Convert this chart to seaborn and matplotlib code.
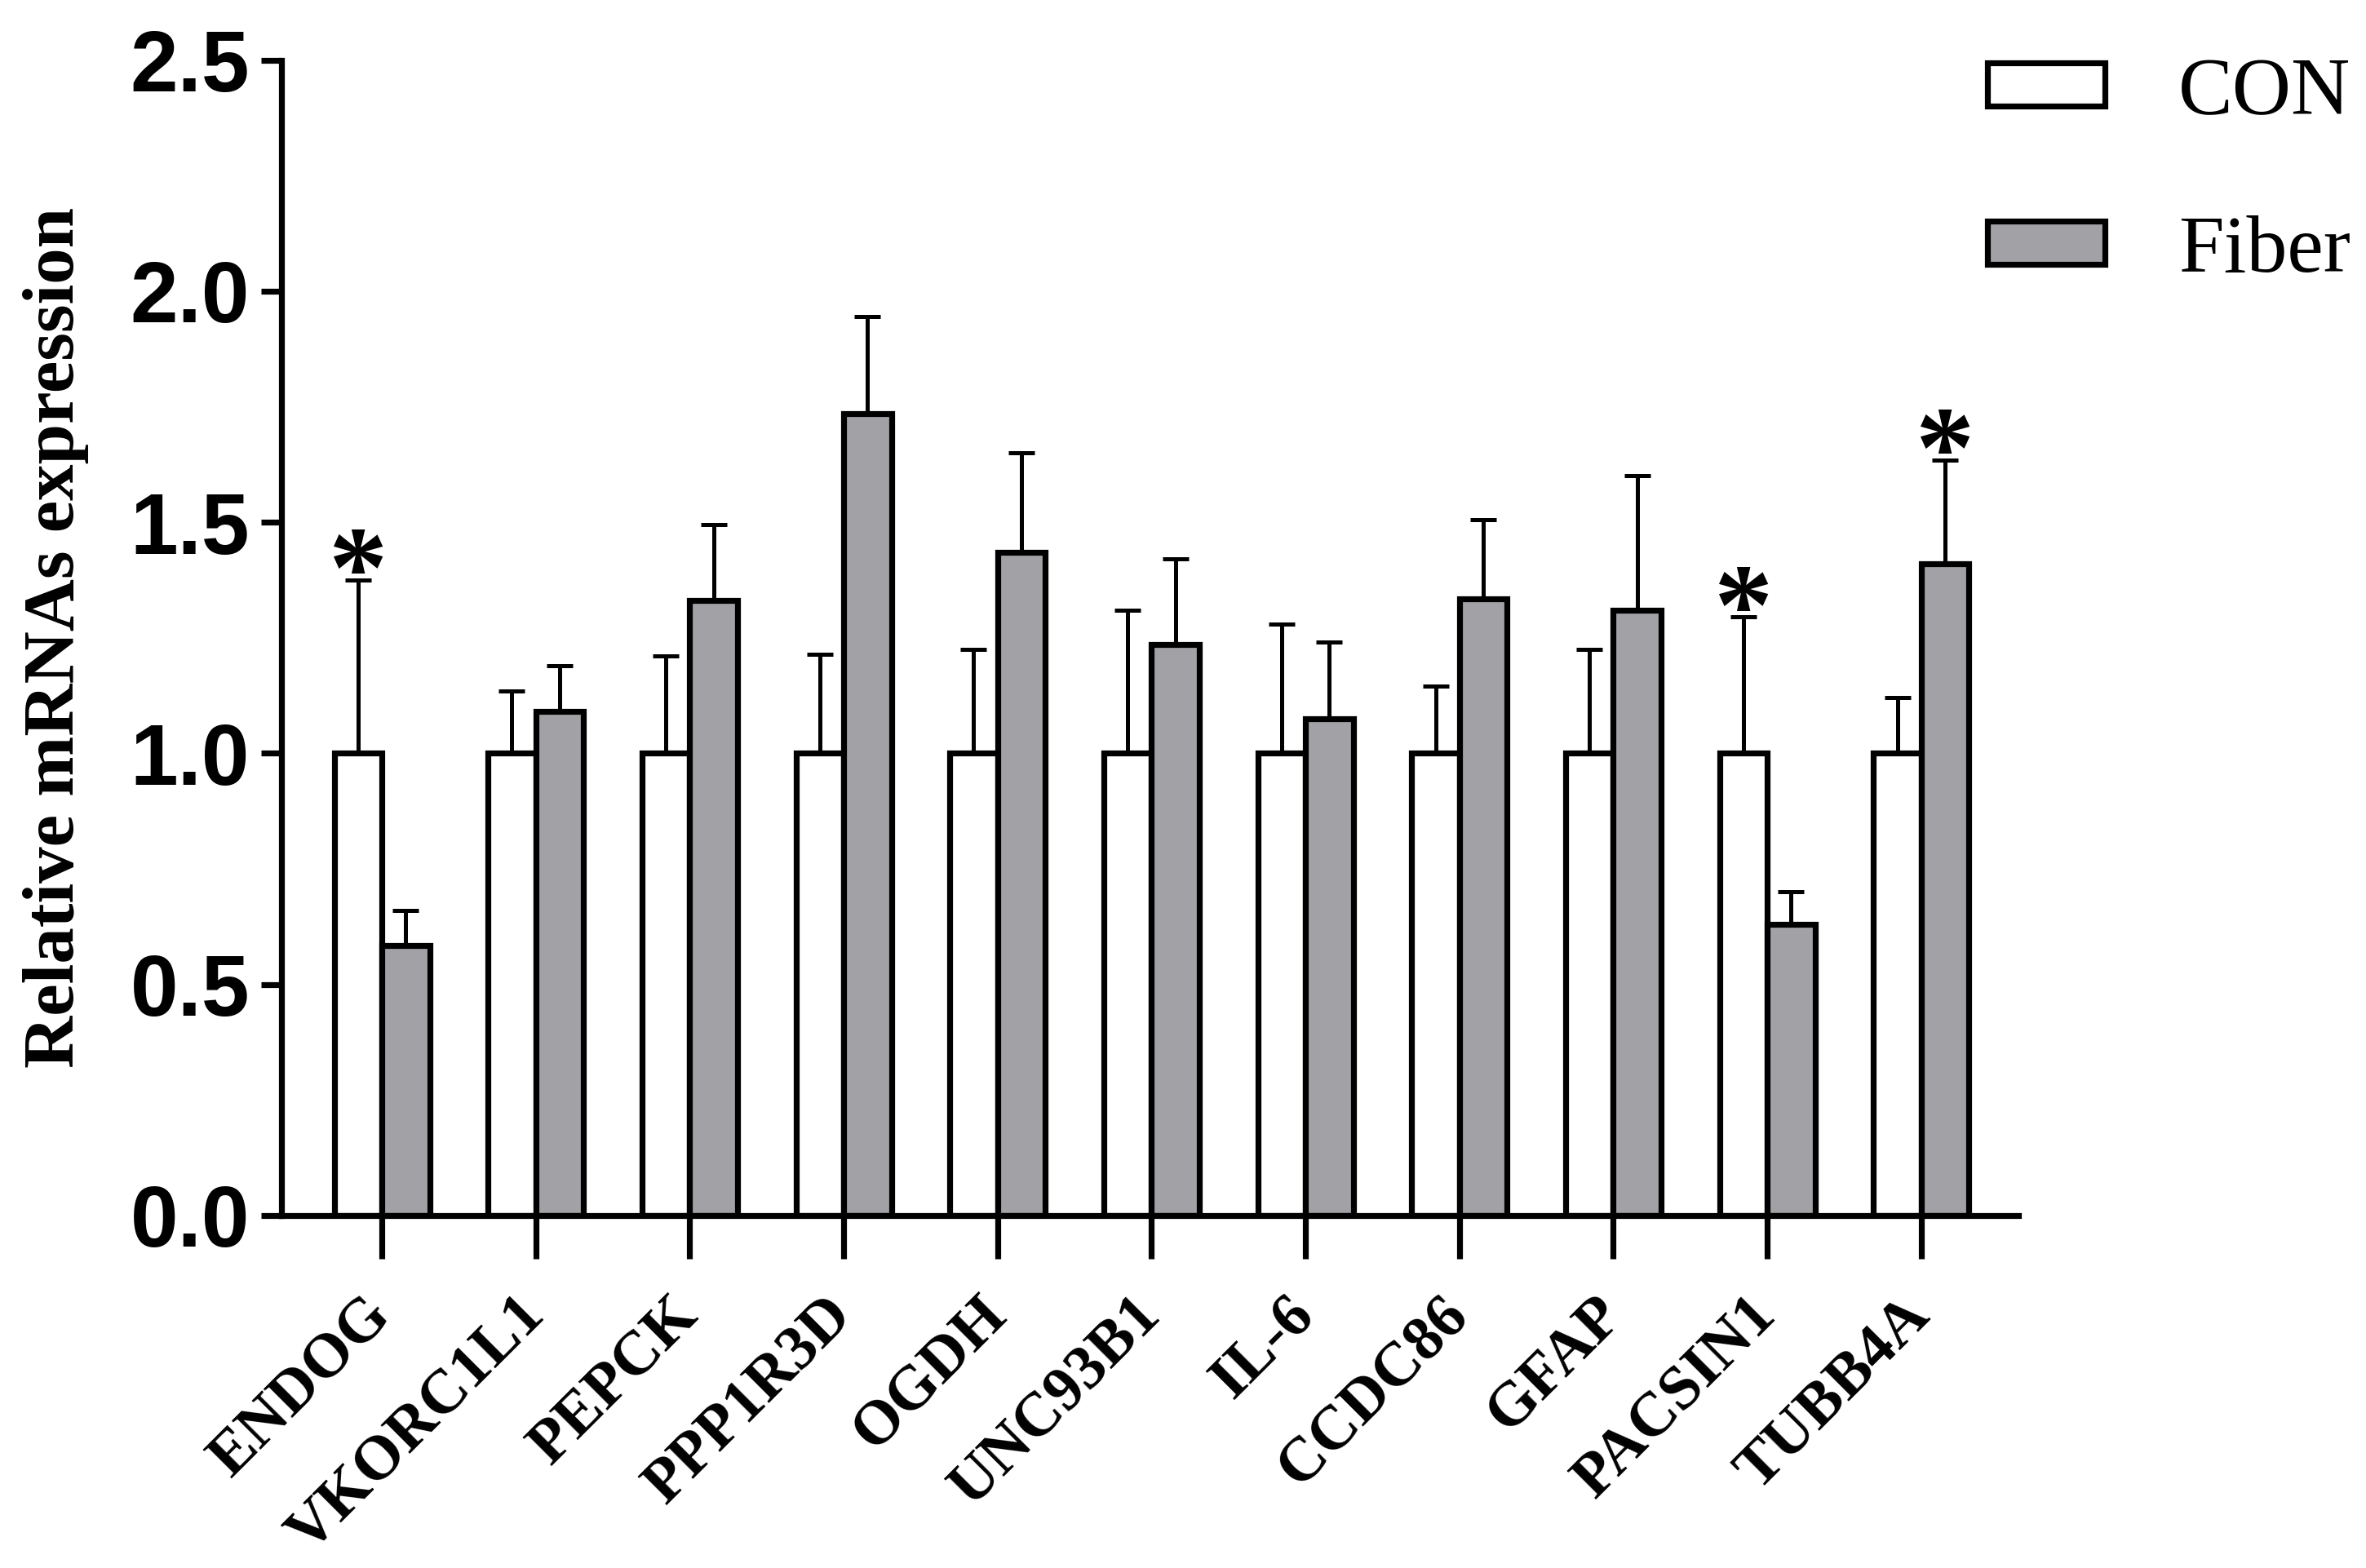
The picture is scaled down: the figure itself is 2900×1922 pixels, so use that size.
import matplotlib
matplotlib.use("Agg")
import matplotlib.pyplot as plt
import matplotlib.patches as mpatches
import numpy as np
import pandas as pd
import seaborn as sns

# ---- data ----
genes = ["ENDOG", "VKORC1L1", "PEPCK", "PPP1R3D", "OGDH", "UNC93B1",
         "IL-6", "CCDC86", "GFAP", "PACSIN1", "TUBB4A"]
groups = ["CON", "Fiber"]
con_mean = [1.0, 1.0, 1.0, 1.0, 1.0, 1.0, 1.0, 1.0, 1.0, 1.0, 1.0]
con_sem = [0.375, 0.135, 0.21, 0.215, 0.225, 0.31, 0.28, 0.145, 0.225, 0.295, 0.12]
fiber_mean = [0.585, 1.09, 1.33, 1.735, 1.435, 1.235, 1.075, 1.335, 1.31, 0.63, 1.41]
fiber_sem = [0.075, 0.10, 0.165, 0.21, 0.215, 0.185, 0.165, 0.17, 0.29, 0.07, 0.225]
signif_con = ["ENDOG", "PACSIN1"]
signif_fiber = ["TUBB4A"]
yticks = [0.0, 0.5, 1.0, 1.5, 2.0, 2.5]
ylabel = "Relative mRNAs expression"

colors = {"CON": "#ffffff", "Fiber": "#a2a1a6"}

df = pd.DataFrame({
    "gene": genes * 2,
    "group": ["CON"] * len(genes) + ["Fiber"] * len(genes),
    "value": con_mean + fiber_mean,
})
sems = {"CON": con_sem, "Fiber": fiber_sem}
sig = {"CON": signif_con, "Fiber": signif_fiber}

sns.set_theme(style="ticks")
plt.rcParams["font.family"] = ["Liberation Serif", "DejaVu Serif"]
plt.rcParams.update({"text.color": "black", "axes.labelcolor": "black",
                     "xtick.color": "black", "ytick.color": "black",
                     "axes.edgecolor": "black"})

LW = 2.6
fig = plt.figure(figsize=(14.5, 9.61), dpi=200)
ax = fig.add_axes([0.1189, 0.2248, 0.7341, 0.7369])

sns.barplot(data=df, x="gene", y="value", hue="group", order=genes,
            hue_order=groups, palette=colors, saturation=1, width=0.62,
            edgecolor="black", linewidth=LW, errorbar=None, legend=False,
            ax=ax)

for cont, g in zip(ax.containers, groups):
    xs = np.array([p.get_x() + p.get_width() / 2 for p in cont])
    hs = np.array([p.get_height() for p in cont])
    err = np.array(sems[g])
    ax.errorbar(xs, hs, yerr=[np.zeros_like(err), err], fmt="none",
                ecolor="black", elinewidth=1.8, capsize=5.8, capthick=1.8,
                zorder=0.5)
    for i, gene in enumerate(genes):
        if gene in sig[g]:
            ax.annotate("*", xy=(xs[i], hs[i] + err[i]), xytext=(0, -12),
                        textcoords="offset points", ha="center", va="baseline",
                        fontsize=52, fontweight="bold", color="black",
                        family=["Liberation Serif"])

ax.set_xlim(-0.653, 10.63)
ax.set_ylim(0, 2.5)
ax.set_yticks(yticks)
ax.set_yticklabels([f"{t:.1f}" for t in yticks], fontsize=38,
                   fontweight="bold", family=["Liberation Sans"], color="black")
ax.set_xticks(range(len(genes)))
ax.set_xticklabels(genes, rotation=45, ha="right", va="center",
                   rotation_mode="anchor", fontsize=27.5, fontweight="bold",
                   color="black")
ax.tick_params(axis="x", length=19, width=LW, pad=21, color="black")
ax.tick_params(axis="y", length=9, width=LW, pad=5, color="black")
for s in ["top", "right"]:
    ax.spines[s].set_visible(False)
for s in ["left", "bottom"]:
    ax.spines[s].set_linewidth(LW)
    ax.spines[s].set_color("black")
ax.set_xlabel("")
ax.set_ylabel(ylabel, fontsize=32, fontweight="bold", color="black")
ax.yaxis.set_label_coords(-0.111, 0.5)

handles = [mpatches.Patch(facecolor=colors[g], edgecolor="black", linewidth=LW, label=g)
           for g in groups]
fig.legend(handles=handles, loc="upper left", bbox_to_anchor=(0.840, 0.9635),
           bbox_transform=fig.transFigure, frameon=False, fontsize=36,
           handlelength=1.44, handleheight=0.45, handletextpad=0.9,
           labelspacing=1.04, borderpad=0, borderaxespad=0)

fig.savefig("out.png", dpi=200, facecolor="white")
